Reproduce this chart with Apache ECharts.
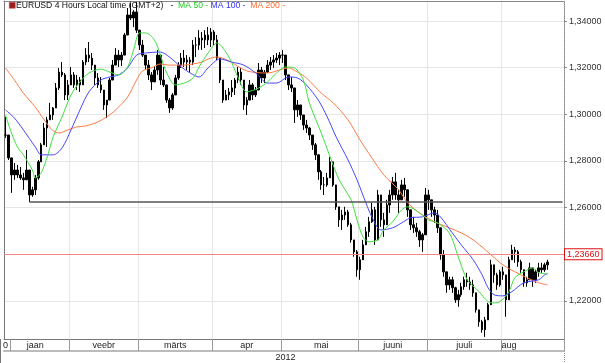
<!DOCTYPE html>
<html><head><meta charset="utf-8">
<script src="https://cdn.jsdelivr.net/npm/echarts@6/dist/echarts.min.js"></script>
<style>html,body{margin:0;padding:0;background:#fff}#c{width:605px;height:363px}</style>
</head><body><div id="c"></div>
<script>
// price bars (one per slot)
const highs = [1.2989,1.2911,1.2804,1.2791,1.2783,1.2774,1.2749,1.2847,1.2697,1.2689,1.2740,1.2804,1.2877,1.2963,1.2989,1.3049,1.3031,1.3134,1.3199,1.3224,1.3177,1.3147,1.3203,1.3181,1.3169,1.3160,1.3233,1.3284,1.3310,1.3263,1.3211,1.3177,1.3160,1.3104,1.3061,1.3156,1.3233,1.3284,1.3276,1.3267,1.3349,1.3456,1.3477,1.3447,1.3482,1.3349,1.3319,1.3254,1.3233,1.3181,1.3207,1.3276,1.3224,1.3203,1.3113,1.3070,1.3091,1.3169,1.3224,1.3263,1.3276,1.3254,1.3246,1.3319,1.3331,1.3361,1.3353,1.3361,1.3374,1.3370,1.3361,1.3340,1.3220,1.3134,1.3104,1.3113,1.3147,1.3156,1.3203,1.3199,1.3147,1.3074,1.3147,1.3134,1.3117,1.3220,1.3203,1.3190,1.3233,1.3246,1.3254,1.3263,1.3267,1.3276,1.3220,1.3160,1.3160,1.3091,1.3061,1.3031,1.2989,1.2976,1.2946,1.2903,1.2877,1.2817,1.2761,1.2731,1.2749,1.2817,1.2791,1.2676,1.2603,1.2590,1.2603,1.2590,1.2534,1.2461,1.2418,1.2389,1.2461,1.2517,1.2560,1.2620,1.2603,1.2676,1.2633,1.2577,1.2633,1.2676,1.2731,1.2749,1.2676,1.2719,1.2727,1.2646,1.2560,1.2560,1.2534,1.2504,1.2491,1.2684,1.2676,1.2633,1.2603,1.2590,1.2504,1.2418,1.2320,1.2303,1.2303,1.2260,1.2247,1.2277,1.2303,1.2320,1.2303,1.2290,1.2217,1.2131,1.2118,1.2131,1.2191,1.2376,1.2346,1.2320,1.2333,1.2346,1.2234,1.2389,1.2440,1.2431,1.2418,1.2376,1.2320,1.2303,1.2363,1.2320,1.2333,1.2363,1.2363,1.2363,1.2376];
const lows = [1.2899,1.2804,1.2663,1.2719,1.2727,1.2719,1.2676,1.2740,1.2624,1.2646,1.2654,1.2719,1.2804,1.2890,1.2860,1.2976,1.2976,1.3040,1.3104,1.3160,1.3061,1.3061,1.3126,1.3113,1.3104,1.3096,1.3126,1.3211,1.3224,1.3190,1.3126,1.3113,1.3091,1.3019,1.2984,1.3083,1.3156,1.3211,1.3203,1.3207,1.3267,1.3361,1.3404,1.3374,1.3349,1.3276,1.3246,1.3190,1.3147,1.3104,1.3139,1.3169,1.3126,1.3117,1.3049,1.3006,1.3019,1.3083,1.3147,1.3199,1.3203,1.3190,1.3177,1.3211,1.3246,1.3276,1.3276,1.3284,1.3297,1.3289,1.3297,1.3233,1.3134,1.3049,1.3061,1.3061,1.3074,1.3083,1.3134,1.3126,1.3019,1.2997,1.3074,1.3061,1.3074,1.3134,1.3134,1.3134,1.3177,1.3190,1.3199,1.3220,1.3211,1.3220,1.3147,1.3104,1.3096,1.2963,1.2989,1.2976,1.2933,1.2920,1.2890,1.2847,1.2804,1.2719,1.2676,1.2654,1.2689,1.2761,1.2689,1.2590,1.2517,1.2504,1.2547,1.2517,1.2449,1.2389,1.2303,1.2290,1.2389,1.2449,1.2474,1.2534,1.2440,1.2560,1.2517,1.2474,1.2534,1.2577,1.2633,1.2633,1.2577,1.2633,1.2646,1.2560,1.2504,1.2491,1.2474,1.2431,1.2410,1.2560,1.2590,1.2560,1.2534,1.2491,1.2376,1.2303,1.2234,1.2247,1.2234,1.2191,1.2174,1.2217,1.2247,1.2260,1.2247,1.2217,1.2149,1.2089,1.2063,1.2045,1.2118,1.2277,1.2277,1.2247,1.2260,1.2290,1.2131,1.2277,1.2376,1.2363,1.2346,1.2320,1.2260,1.2260,1.2290,1.2260,1.2277,1.2303,1.2320,1.2324,1.2333];
const closes = [1.2911,1.2813,1.2740,1.2761,1.2740,1.2727,1.2719,1.2761,1.2654,1.2676,1.2727,1.2796,1.2869,1.2941,1.2976,1.2997,1.3027,1.3113,1.3181,1.3169,1.3083,1.3126,1.3169,1.3126,1.3147,1.3126,1.3224,1.3254,1.3241,1.3211,1.3156,1.3126,1.3104,1.3040,1.3061,1.3147,1.3211,1.3254,1.3233,1.3254,1.3340,1.3426,1.3413,1.3439,1.3361,1.3297,1.3254,1.3211,1.3169,1.3139,1.3190,1.3254,1.3147,1.3126,1.3061,1.3027,1.3083,1.3156,1.3211,1.3241,1.3224,1.3233,1.3224,1.3297,1.3297,1.3327,1.3319,1.3340,1.3319,1.3353,1.3319,1.3241,1.3147,1.3061,1.3083,1.3096,1.3113,1.3147,1.3181,1.3147,1.3040,1.3061,1.3126,1.3083,1.3104,1.3190,1.3156,1.3181,1.3211,1.3224,1.3233,1.3241,1.3254,1.3254,1.3169,1.3126,1.3113,1.3019,1.3040,1.2997,1.2954,1.2941,1.2911,1.2869,1.2826,1.2753,1.2697,1.2697,1.2727,1.2796,1.2697,1.2603,1.2547,1.2568,1.2581,1.2526,1.2461,1.2410,1.2333,1.2376,1.2440,1.2496,1.2539,1.2590,1.2461,1.2654,1.2547,1.2526,1.2611,1.2654,1.2710,1.2654,1.2633,1.2697,1.2676,1.2590,1.2526,1.2513,1.2496,1.2461,1.2483,1.2654,1.2633,1.2590,1.2568,1.2513,1.2397,1.2324,1.2268,1.2290,1.2256,1.2204,1.2226,1.2260,1.2290,1.2281,1.2268,1.2234,1.2161,1.2110,1.2076,1.2118,1.2183,1.2354,1.2311,1.2268,1.2324,1.2311,1.2204,1.2376,1.2418,1.2410,1.2367,1.2333,1.2277,1.2290,1.2341,1.2290,1.2324,1.2341,1.2333,1.2354,1.2366];
// moving averages as [slot, value]
const ma50 = [[0,1.2997],[2,1.2920],[4,1.2860],[6,1.2826],[9,1.2761],[10,1.2727],[12,1.2749],[14,1.2817],[16,1.2903],[19,1.2989],[22,1.3083],[25,1.3139],[28,1.3177],[32,1.3194],[35,1.3181],[38,1.3169],[41,1.3203],[43,1.3276],[45,1.3349],[47,1.3349],[50,1.3319],[52,1.3254],[54,1.3181],[57,1.3126],[60,1.3134],[63,1.3156],[65,1.3203],[68,1.3263],[71,1.3306],[75,1.3246],[78,1.3160],[81,1.3096],[85,1.3113],[88,1.3139],[91,1.3177],[94,1.3203],[97,1.3199],[100,1.3147],[102,1.3049],[106,1.2920],[109,1.2817],[112,1.2719],[116,1.2633],[118,1.2547],[120,1.2474],[122,1.2453],[125,1.2461],[127,1.2504],[130,1.2539],[133,1.2590],[135,1.2603],[139,1.2577],[142,1.2547],[145,1.2534],[149,1.2491],[152,1.2389],[155,1.2290],[159,1.2239],[162,1.2196],[164,1.2191],[166,1.2196],[169,1.2239],[171,1.2299],[174,1.2324],[177,1.2341],[179,1.2320],[182,1.2316]];
const ma100 = [[0,1.3019],[3,1.2984],[6,1.2933],[10,1.2860],[12,1.2826],[16,1.2826],[19,1.2856],[22,1.2933],[25,1.3019],[28,1.3096],[32,1.3147],[35,1.3160],[38,1.3169],[41,1.3199],[44,1.3254],[47,1.3263],[52,1.3267],[55,1.3246],[59,1.3203],[62,1.3177],[65,1.3160],[68,1.3199],[72,1.3237],[76,1.3224],[80,1.3211],[84,1.3177],[88,1.3134],[91,1.3134],[95,1.3160],[98,1.3156],[101,1.3126],[105,1.3061],[108,1.2989],[111,1.2903],[115,1.2804],[118,1.2719],[121,1.2620],[123,1.2560],[126,1.2504],[130,1.2513],[133,1.2534],[136,1.2556],[140,1.2560],[144,1.2577],[146,1.2560],[150,1.2491],[153,1.2440],[157,1.2376],[160,1.2311],[162,1.2256],[164,1.2226],[167,1.2221],[170,1.2239],[174,1.2277],[179,1.2290],[181,1.2311],[182,1.2316]];
const ma200 = [[0,1.3199],[3,1.3147],[6,1.3091],[10,1.3031],[13,1.2976],[16,1.2929],[18,1.2920],[21,1.2933],[24,1.2946],[27,1.2950],[31,1.2967],[34,1.2989],[37,1.3019],[41,1.3074],[44,1.3147],[46,1.3186],[49,1.3199],[52,1.3216],[55,1.3211],[60,1.3211],[63,1.3216],[66,1.3224],[68,1.3237],[71,1.3246],[75,1.3229],[81,1.3186],[88,1.3177],[95,1.3199],[98,1.3181],[101,1.3156],[106,1.3091],[110,1.3049],[115,1.2976],[119,1.2890],[123,1.2813],[127,1.2740],[132,1.2676],[135,1.2620],[140,1.2568],[144,1.2539],[149,1.2513],[153,1.2491],[156,1.2470],[160,1.2431],[163,1.2397],[167,1.2354],[171,1.2324],[175,1.2299],[179,1.2277],[182,1.2268]];
const slotCount = 188;
const monthNames = ['0','jaan','veebr','märts','apr','mai','juuni','juuli','aug'];
const monthLabelSlots = [0,10,33,57,81,106,130,154,169];
const monthStartSlots = [2,22,45,70,93,119,142,167];
const yearLabel = '2012';
const yearLabelSlot = 94;
const yTicks = [1.22,1.24,1.26,1.28,1.30,1.32,1.34];
const lastPrice = 1.2366;
const supportLevel = 1.2623;
const supportStartSlot = 8;
const yMin = 1.2036, yMax = 1.3486;

const FONT = "'Liberation Sans', Arial, sans-serif";
const categories = Array.from({length: slotCount}, (_, i) => String(i));
const labelAt = {};
monthLabelSlots.forEach((s, k) => { labelAt[s] = monthNames[k]; });
const ohlc = closes.map((c, i) => [i === 0 ? c : closes[i - 1], c, lows[i], highs[i]]);
const fmt = v => v.toFixed(5).replace('.', ',');

const chart = echarts.init(document.getElementById('c'), null, {renderer: 'canvas'});
chart.setOption({
  animation: false,
  backgroundColor: '#fff',
  title: {
    left: 16, top: 1, padding: 0,
    text: '{k|EURUSD 4 Hours Local time (GMT+2)   -  }{g|MA 50 -}{b| MA 100 -}{o|  MA 200 -}',
    textStyle: {
      fontFamily: FONT, fontSize: 8.6, fontWeight: 'normal',
      rich: {
        k: {color: '#111', fontSize: 8.6, fontFamily: FONT},
        g: {color: '#22d022', fontSize: 8.6, fontFamily: FONT},
        b: {color: '#3030ff', fontSize: 8.6, fontFamily: FONT},
        o: {color: '#ff6a30', fontSize: 8.6, fontFamily: FONT}
      }
    }
  },
  grid: {left: 0, right: 41, top: 1, bottom: 24, containLabel: false},
  xAxis: [{
    type: 'category', data: categories, boundaryGap: true,
    axisLine: {show: true, lineStyle: {color: '#777', width: 1}},
    axisTick: {show: true, length: 12, lineStyle: {color: '#999'},
      interval: (i) => monthStartSlots.includes(i)},
    axisLabel: {show: true, margin: 2, fontSize: 9, color: '#222', fontFamily: FONT,
      interval: (i) => labelAt[i] !== undefined,
      formatter: (v, i) => labelAt[i] || ''},
    splitLine: {show: true, lineStyle: {color: '#e6e6e6', width: 1},
      interval: (i) => monthStartSlots.includes(i) && i !== monthStartSlots[0]}
  }, {
    type: 'category', data: categories, boundaryGap: true, position: 'bottom', offset: 12,
    axisLine: {show: true, lineStyle: {color: '#bbb', width: 2}},
    axisTick: {show: false},
    axisLabel: {show: true, margin: 2, fontSize: 9, color: '#222', fontFamily: FONT,
      interval: (i) => i === yearLabelSlot,
      formatter: (v, i) => i === yearLabelSlot ? yearLabel : ''},
    splitLine: {show: false}
  }, {
    type: 'category', data: categories, boundaryGap: true, position: 'top',
    axisLine: {show: true, lineStyle: {color: '#888'}},
    axisTick: {show: false}, axisLabel: {show: false}, splitLine: {show: false}
  }],
  yAxis: [{
    type: 'value', position: 'right', min: yMin, max: yMax, scale: true,
    axisLine: {show: true, lineStyle: {color: '#888', type: 'dotted'}},
    axisTick: {show: true, length: 3, lineStyle: {color: '#888'}, customValues: yTicks},
    axisLabel: {show: true, margin: 5, fontSize: 9, color: '#333', fontFamily: FONT,
      customValues: yTicks, formatter: v => fmt(v)},
    splitLine: {show: true, lineStyle: {color: '#e6e6e6', width: 1}}
  }, {
    type: 'value', position: 'left', min: yMin, max: yMax, scale: true,
    axisLine: {show: true, lineStyle: {color: '#777'}},
    axisTick: {show: false}, axisLabel: {show: false}, splitLine: {show: false}
  }],
  series: [{
    type: 'candlestick', name: 'EURUSD', data: ohlc, barWidth: 2,
    itemStyle: {color: '#000', color0: '#000', borderColor: '#000', borderColor0: '#000', borderWidth: 1},
    markLine: {
      silent: true, symbol: 'none', animation: false,
      data: [
        {yAxis: lastPrice, lineStyle: {color: '#f08888', width: 1, type: 'solid'},
          label: {show: true, position: 'end', distance: 1, formatter: () => fmt(lastPrice),
            color: '#e01010', fontSize: 9, fontFamily: FONT, backgroundColor: '#fff',
            borderColor: '#e01010', borderWidth: 1, padding: [1, 2, 0, 2]}},
        [{coord: [supportStartSlot, supportLevel], lineStyle: {color: '#555', width: 1.5, type: 'solid'}, label: {show: false}},
         {coord: [slotCount - 1, supportLevel]}]
      ]
    }
  }, {
    type: 'line', name: 'MA 200', data: ma200, smooth: 0.3, showSymbol: false, z: 3,
    lineStyle: {color: '#ff7a45', width: 1}
  }, {
    type: 'line', name: 'MA 100', data: ma100, smooth: 0.3, showSymbol: false, z: 3,
    lineStyle: {color: '#4646ff', width: 1}
  }, {
    type: 'line', name: 'MA 50', data: ma50, smooth: 0.3, showSymbol: false, z: 3,
    lineStyle: {color: '#3ee03e', width: 1}
  }],
  graphic: [
    {type: 'rect', left: 9, top: 2, shape: {width: 6, height: 6}, style: {fill: '#9a2020', stroke: '#c04040', lineWidth: 0.5}},
    {type: 'line', shape: {x1: 0.5, y1: 339, x2: 0.5, y2: 363}, style: {stroke: '#777', lineWidth: 1}},
    {type: 'line', shape: {x1: 564.5, y1: 339, x2: 564.5, y2: 363}, style: {stroke: '#888', lineWidth: 1, lineDash: [1, 1]}}
  ]
});
</script>
</body></html>
